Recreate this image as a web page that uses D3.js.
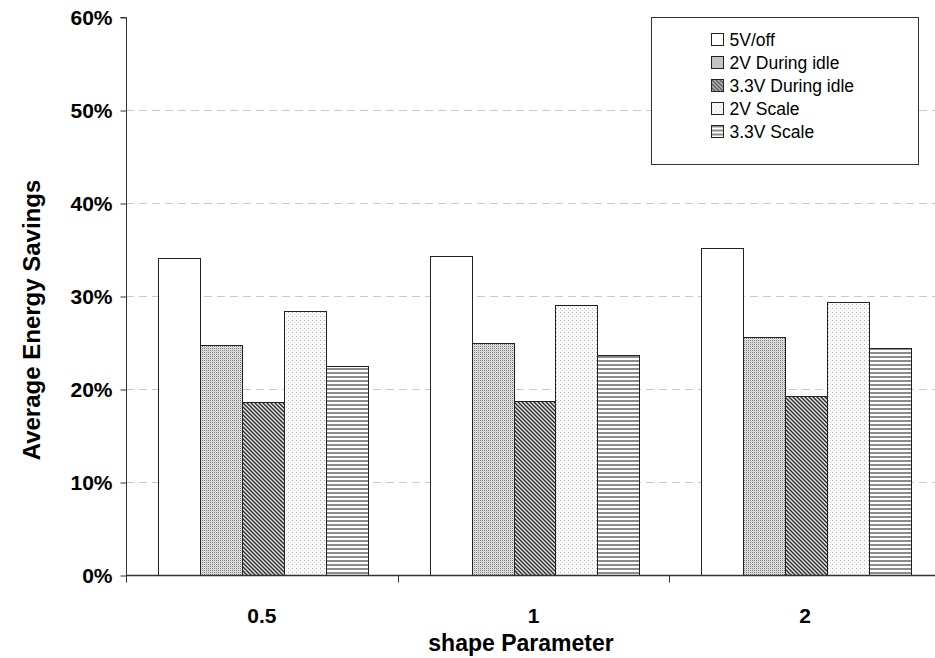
<!DOCTYPE html>
<html>
<head>
<meta charset="utf-8">
<script src="https://cdn.jsdelivr.net/npm/d3@7/dist/d3.min.js"></script>
<style>
  body { margin: 0; background: #fff; }
  svg { display: block; font-family: "Liberation Sans", Arial, sans-serif; }
</style>
</head>
<body>
<div id="chart"></div>
<script>
// data
var categories = ['0.5', '1', '2']
var seriesNames = ['5V/off', '2V During idle', '3.3V During idle', '2V Scale', '3.3V Scale']
var off5V = [34.1, 34.3, 35.2]
var idle2V = [24.7, 24.9, 25.6]
var idle33V = [18.6, 18.7, 19.3]
var scale2V = [28.4, 29.0, 29.4]
var scale33V = [22.5, 23.7, 24.4]
var yTicks = [0, 10, 20, 30, 40, 50, 60]

var series = [off5V, idle2V, idle33V, scale2V, scale33V]
var fills = ['#ffffff', 'url(#pDots)', 'url(#pDiag)', 'url(#pLight)', 'url(#pHoriz)']

var W = 935, H = 658
var svg = d3.select('#chart').append('svg').attr('width', W).attr('height', H)

// patterns
var defs = svg.append('defs')
var p1 = defs.append('pattern').attr('id', 'pDots').attr('patternUnits', 'userSpaceOnUse').attr('width', 2).attr('height', 2)
p1.append('rect').attr('width', 2).attr('height', 2).attr('fill', '#e2e2e2')
p1.append('rect').attr('width', 1).attr('height', 1).attr('fill', '#808080')
p1.append('rect').attr('x', 1).attr('y', 1).attr('width', 1).attr('height', 1).attr('fill', '#cccccc')

var p2 = defs.append('pattern').attr('id', 'pDiag').attr('patternUnits', 'userSpaceOnUse').attr('width', 4).attr('height', 4)
p2.append('rect').attr('width', 4).attr('height', 4).attr('fill', '#e0e0e0')
p2.append('path').attr('d', 'M0,0 L4,4 M-1,3 L1,5 M3,-1 L5,1').attr('stroke', '#2a2a2a').attr('stroke-width', 1.3)

var p3 = defs.append('pattern').attr('id', 'pLight').attr('patternUnits', 'userSpaceOnUse').attr('width', 4).attr('height', 4)
p3.append('rect').attr('width', 4).attr('height', 4).attr('fill', '#fafafa')
p3.append('rect').attr('width', 1).attr('height', 1).attr('fill', '#b0b0b0')
p3.append('rect').attr('x', 2).attr('y', 2).attr('width', 1).attr('height', 1).attr('fill', '#d4d4d4')

var p4 = defs.append('pattern').attr('id', 'pHoriz').attr('patternUnits', 'userSpaceOnUse').attr('width', 4).attr('height', 4)
p4.append('rect').attr('width', 4).attr('height', 4).attr('fill', '#ffffff')
p4.append('rect').attr('y', 0).attr('width', 4).attr('height', 2).attr('fill', '#8c8c8c')

var x0 = 126, plotW = 815, y0 = 17, y1 = 575
var x = d3.scaleBand().domain(categories).range([x0, x0 + plotW]).paddingInner(0).paddingOuter(0)
var xs = d3.scaleBand().domain(d3.range(seriesNames.length)).range([32, x.bandwidth() - 30])
var y = d3.scaleLinear().domain([0, 60]).range([y1, y0])

// gridlines
svg.append('g').selectAll('line').data(yTicks.filter(function(d) { return d > 0 && d < 60 }))
  .enter().append('line')
  .attr('x1', x0).attr('x2', W).attr('y1', function(d) { return Math.round(y(d)) + 0.5 }).attr('y2', function(d) { return Math.round(y(d)) + 0.5 })
  .attr('stroke', '#c8c8c8').attr('stroke-dasharray', '8,5')

// bars
categories.forEach(function(c, ci) {
  series.forEach(function(s, si) {
    svg.append('rect')
      .attr('x', Math.round(x(c) + xs(si)) + 0.5)
      .attr('y', Math.round(y(s[ci])) + 0.5)
      .attr('width', Math.round(xs.bandwidth()))
      .attr('height', Math.round(y1 - y(s[ci])))
      .attr('fill', fills[si])
      .attr('stroke', '#222').attr('stroke-width', 1)
  })
})

// y axis
var yAxis = d3.axisLeft(y).tickValues(yTicks).tickSize(6).tickPadding(8).tickFormat(function(d) { return d + '%' })
var gy = svg.append('g').attr('transform', 'translate(' + (x0 + 0.5) + ',0.5)').call(yAxis)
gy.select('.domain').attr('stroke', '#333').attr('d', 'M-6,' + y0 + 'H0V' + y1)
gy.selectAll('.tick line').attr('stroke', '#333')
gy.selectAll('text').attr('font-size', 21).attr('font-weight', 'bold').attr('fill', '#000').attr('font-family', '"Liberation Sans", Arial, sans-serif')

// x axis
var gx = svg.append('g').attr('transform', 'translate(0,' + (y1 + 0.5) + ')')
gx.append('line').attr('x1', x0).attr('x2', W).attr('stroke', '#333').attr('stroke-width', 1.5)
gx.selectAll('.tk').data(categories).enter().append('line')
  .attr('x1', function(d) { return Math.round(x(d)) + 0.5 }).attr('x2', function(d) { return Math.round(x(d)) + 0.5 })
  .attr('y1', 0).attr('y2', 7).attr('stroke', '#333')
gx.selectAll('.lb').data(categories).enter().append('text')
  .attr('x', function(d) { return x(d) + x.bandwidth() / 2 }).attr('y', 47)
  .attr('text-anchor', 'middle').attr('font-size', 21).attr('font-weight', 'bold').text(function(d) { return d })

// axis titles
svg.append('text').attr('x', 521).attr('y', 651).attr('text-anchor', 'middle')
  .attr('font-size', 23).attr('font-weight', 'bold').text('shape Parameter')
svg.append('text').attr('transform', 'translate(40,320) rotate(-90)').attr('text-anchor', 'middle')
  .attr('font-size', 24).attr('font-weight', 'bold').text('Average Energy Savings')

// legend
var lg = svg.append('g').attr('transform', 'translate(651.5,17.5)')
lg.append('rect').attr('width', 267).attr('height', 147).attr('fill', '#fff').attr('stroke', '#333')
seriesNames.forEach(function(n, i) {
  var row = lg.append('g').attr('transform', 'translate(60,' + (16 + i * 23) + ')')
  row.append('rect').attr('width', 12).attr('height', 12).attr('fill', fills[i]).attr('stroke', '#222')
  row.append('text').attr('x', 18).attr('y', 12.5).attr('font-size', 17.5).text(n)
})
</script>
</body>
</html>
